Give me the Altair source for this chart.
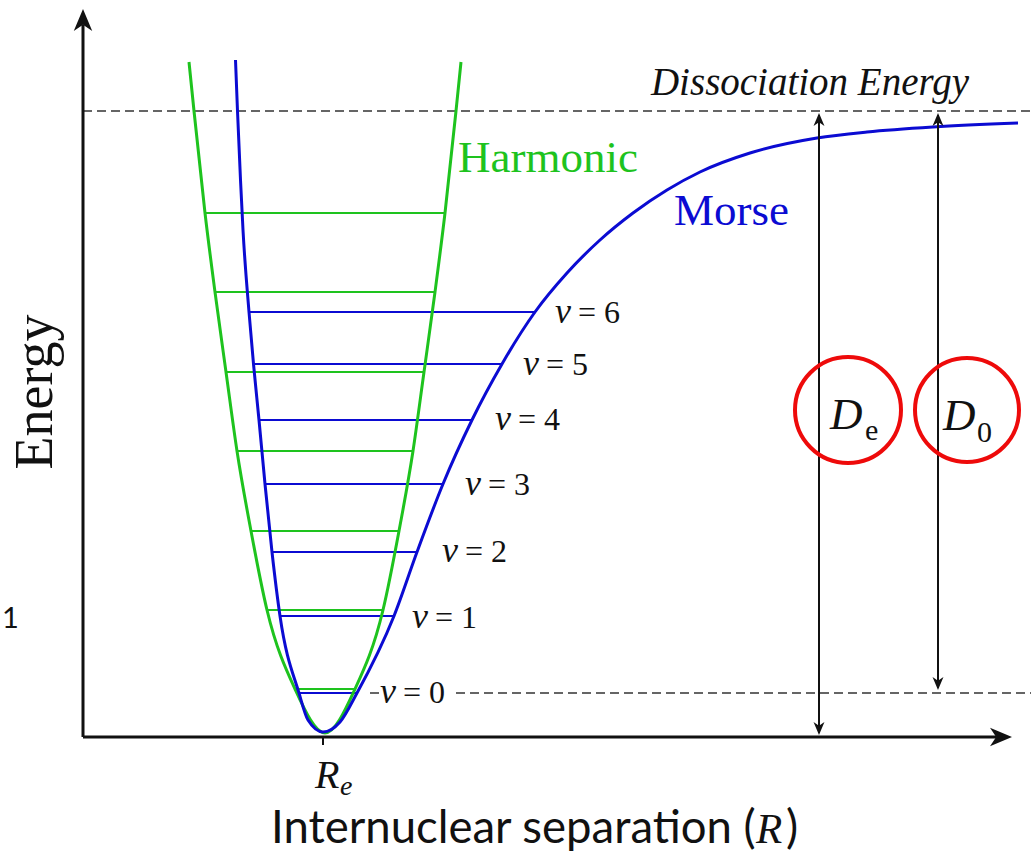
import altair as alt
import pandas as pd

# ---- data (R = internuclear separation, E = energy) ----
harm_R = [106, 111, 122, 132, 143, 154, 168, 184, 212, 242, 272, 300, 316, 330, 341, 352, 362, 373, 378]
harm_E = [675, 626, 524, 445, 365, 286, 206, 127, 48, 4, 48, 127, 206, 286, 365, 445, 524, 626, 675]

morse_R = [152.5, 154.5, 157.5, 160, 166, 170.5, 176, 182, 189, 197, 216, 225, 240,
           257, 274, 311, 334, 360, 389, 419, 452, 484, 517, 550, 584, 617, 667, 734, 784, 850, 935]
morse_E = [677, 626, 557, 507, 425, 373, 317, 253, 185, 121, 44, 17, 5,
           15, 44, 121, 185, 253, 317, 373, 425, 464, 497, 524, 547, 565, 584, 599, 605, 610, 614]

levels_v = [0, 1, 2, 3, 4, 5, 6]
harm_lvl_E = [48, 127, 206, 286, 365, 445, 524]
harm_lvl_R1 = [212, 184, 168, 154, 143, 132, 122]
harm_lvl_R2 = [272, 300, 316, 330, 341, 352, 362]
morse_lvl_E = [44, 121, 185, 253, 317, 373, 425]
morse_lvl_R1 = [216, 197, 189, 182, 176, 170.5, 166]
morse_lvl_R2 = [274, 311, 334, 360, 389, 419, 452]
label_R = [297, 329, 359, 382, 412, 440, 472]
label_E = [34, 109, 175, 242, 307, 362, 414]

diss_E = 626        # dissociation energy level
zero_E = 44         # v=0 level
Re = 240            # equilibrium separation
De_R = 736
D0_R = 855
axis_top_E = 728
axis_right_R = 929

GREEN = "#1ec31e"
BLUE = "#0b0bd2"
RED = "#ee0a0a"
INK = "#111111"
GREY = "#333333"

XS = alt.Scale(domain=[-83, 948], nice=False, zero=False)
YS = alt.Scale(domain=[-117, 737], nice=False, zero=False)


def X(f="R"):
    return alt.X(f"{f}:Q", scale=XS, axis=None)


def Y(f="E"):
    return alt.Y(f"{f}:Q", scale=YS, axis=None)


def hrule(R1, R2, E, color, width, dash=None):
    df = pd.DataFrame({"R": [R1], "R2": [R2], "E": [E]})
    kw = dict(color=color, strokeWidth=width)
    if dash:
        kw["strokeDash"] = dash
    return alt.Chart(df).mark_rule(**kw).encode(x=X(), x2="R2:Q", y=Y())


def vrule(R, E1, E2, color, width):
    df = pd.DataFrame({"R": [R], "E": [E1], "E2": [E2]})
    return alt.Chart(df).mark_rule(color=color, strokeWidth=width).encode(x=X(), y=Y(), y2="E2:Q")


ARROW = "M0,0 L-0.42,1 L0,0.72 L0.42,1 Z"


def head(R, E, size, angle):
    df = pd.DataFrame({"R": [R], "E": [E]})
    return alt.Chart(df).mark_point(shape=ARROW, filled=True, color=INK, size=size,
                                    angle=angle, opacity=1, strokeWidth=0).encode(x=X(), y=Y())


def label(text, R, E, size, font, style="normal", color=INK, align="left", angle=0):
    df = pd.DataFrame({"R": [R], "E": [E], "t": [text]})
    return alt.Chart(df).mark_text(font=font, fontSize=size, fontStyle=style, color=color,
                                   align=align, baseline="alphabetic", angle=angle).encode(
        x=X(), y=Y(), text="t:N")


layers = []

# dashed reference levels
layers.append(hrule(0, 948, diss_E, GREY, 1.5, [9, 5]))
layers.append(hrule(287, 296, zero_E, GREY, 1.5, [9, 5]))
layers.append(hrule(373, 948, zero_E, GREY, 1.5, [9, 5]))

# energy levels
harm_lv = pd.DataFrame({"v": levels_v, "E": harm_lvl_E, "R": harm_lvl_R1, "R2": harm_lvl_R2})
morse_lv = pd.DataFrame({"v": levels_v, "E": morse_lvl_E, "R": morse_lvl_R1, "R2": morse_lvl_R2})
layers.append(alt.Chart(harm_lv).mark_rule(color=GREEN, strokeWidth=2).encode(x=X(), x2="R2:Q", y=Y()))
layers.append(alt.Chart(morse_lv).mark_rule(color=BLUE, strokeWidth=2).encode(x=X(), x2="R2:Q", y=Y()))

# potential curves
harm = pd.DataFrame({"R": harm_R, "E": harm_E})
morse = pd.DataFrame({"R": morse_R, "E": morse_E})
layers.append(alt.Chart(harm).mark_line(color=GREEN, strokeWidth=3, interpolate="monotone").encode(x=X(), y=Y()))
layers.append(alt.Chart(morse).mark_line(color=BLUE, strokeWidth=3, interpolate="monotone").encode(x=X(), y=Y()))

# axes
layers.append(vrule(0, 0, axis_top_E - 16, INK, 3))
layers.append(hrule(0, axis_right_R - 16, 0, INK, 3))
layers.append(head(0, axis_top_E, 1936, 0))
layers.append(head(axis_right_R, 0, 1936, 90))
layers.append(vrule(Re, 0, -8, INK, 2))

# De and D0 double arrows
layers.append(vrule(De_R, 4, diss_E - 4, INK, 2))
layers.append(head(De_R, diss_E - 2, 676, 0))
layers.append(head(De_R, 2, 676, 180))
layers.append(vrule(D0_R, zero_E + 5, diss_E - 4, INK, 2))
layers.append(head(D0_R, diss_E - 2, 676, 0))
layers.append(head(D0_R, zero_E + 3, 676, 180))

# red circles
circ = pd.DataFrame({"R": [765, 884], "E": [327, 327], "s": [106 * 106, 104 * 104]})
layers.append(alt.Chart(circ).mark_point(shape="circle", filled=False, color=RED, strokeWidth=4,
                                         opacity=1).encode(x=X(), y=Y(), size=alt.Size("s:Q", scale=None, legend=None)))

# level labels
lab = pd.DataFrame({"R": label_R, "E": label_E, "v": ["v"] * 7, "n": [f"= {v}" for v in levels_v]})
SERIF = "Liberation Serif"
layers.append(alt.Chart(lab).mark_text(font=SERIF, fontSize=36, fontStyle="italic", color=INK, align="left",
                                       baseline="alphabetic").encode(x=X(), y=Y(), text="v:N"))
layers.append(alt.Chart(lab).mark_text(font=SERIF, fontSize=32, color=INK, align="left", dx=23,
                                       baseline="alphabetic").encode(x=X(), y=Y(), text="n:N"))

# texts
layers.append(label("Dissociation Energy", 727, 642, 39, SERIF, "italic", align="center"))
layers.append(label("Harmonic", 375, 565, 45, SERIF, color=GREEN))
layers.append(label("Morse", 591, 512, 45, SERIF, color=BLUE))
layers.append(label("Energy", -31, 345, 54, SERIF, align="center", angle=270))
layers.append(label("D", 747, 308, 45, SERIF, "italic"))
layers.append(label("e", 782, 297, 30, SERIF))
layers.append(label("D", 860, 307, 45, SERIF, "italic"))
layers.append(label("0", 894, 295, 30, SERIF))
layers.append(label("1", -81, 109, 29, "Lato"))
layers.append(label("R", 232, -51, 40, SERIF, "italic"))
layers.append(label("e", 257, -58, 28, SERIF, "italic"))
layers.append(label("Internuclear separation (", 188, -106, 45.5, "Lato"))
layers.append(label("R", 673, -106, 43, SERIF, "italic"))
layers.append(label(")", 703, -106, 45.5, "Lato"))

chart = alt.layer(*layers).properties(
    width=1031, height=854, padding=0, autosize=alt.AutoSizeParams(type="none"),
    background="white"
).configure_view(stroke=None)

chart.save("out.html", embed_options={"renderer": "svg", "actions": False})
